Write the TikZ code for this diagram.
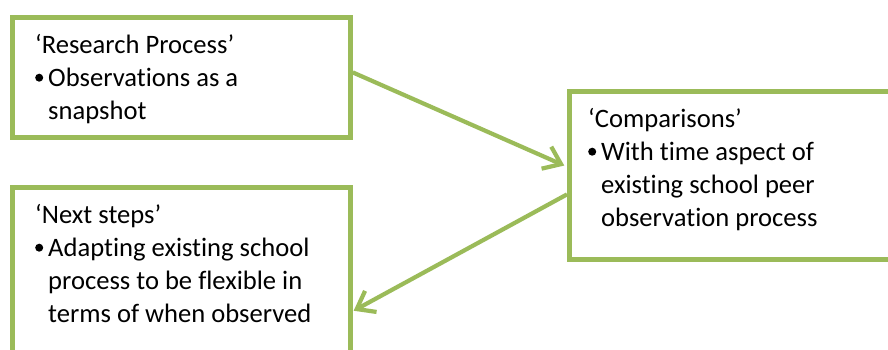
\documentclass[tikz,border=0pt]{standalone}
\usepackage{fontspec}
\setmainfont[Ligatures={NoCommon}]{Carlito}
\usetikzlibrary{arrows.meta,calc}
\definecolor{leaf}{HTML}{9BBB59}
\tikzset{
  panel/.style={draw=leaf, line width=4.8pt, fill=white, inner sep=0pt, anchor=north west},
  panetext/.style={anchor=north west, inner sep=0pt, align=left,
    font=\fontsize{26.6}{33}\selectfont},
  flow/.style={draw=leaf, line width=4.2pt,
    -{Straight Barb[length=16pt,width=24pt,line width=4.2pt]}},
}
\newcommand{\firstline}{\rule{0pt}{20pt}}
% round bullet, 8pt across, its centre 8.5pt above the baseline
\newcommand{\bulitem}{\makebox[13pt][l]{\raisebox{4.5pt}{\tikz\fill[black] (0pt,0pt) circle[radius=4pt];}}}
\newcommand{\bulcont}{\hspace*{13pt}}
\begin{document}
\begin{tikzpicture}[x=1pt,y=-1pt]
  \useasboundingbox (0,0) rectangle (888,350);
  \fill[white] (0,0) rectangle (888,350);
  \clip (0,0) rectangle (888,350);

  % three boxes
  \node[panel, minimum width=338pt, minimum height=120pt] (rp) at (10,15) {};
  \node[panel, minimum width=338pt, minimum height=185pt] (ns) at (10,185) {};
  \node[panel, minimum width=340pt, minimum height=168pt] (cmp) at (567,89) {};

  % box contents
  \node[panetext] (rptext) at (35,33)
    {\firstline‘Research Process’\\
     \bulitem Observations as a\\
     \bulcont snapshot};
  \node[panetext] (nstext) at (35,203)
    {\firstline‘Next steps’\\
     \bulitem Adapting existing school\\
     \bulcont process to be flexible in\\
     \bulcont terms of when observed};
  \node[panetext] (cmptext) at (588,107)
    {\firstline‘Comparisons’\\
     \bulitem With time aspect of\\
     \bulcont existing school peer\\
     \bulcont observation process};

  % connectors
  \draw[flow, shorten >=3pt]
    ($(rp.north east)!0.46!(rp.south east)$) -- ($(cmp.north west)!0.45!(cmp.south west)$);
  \draw[flow, shorten >=1pt]
    ($(cmp.north west)!0.61!(cmp.south west)$) -- ($(ns.north east)!0.665!(ns.south east)$);
\end{tikzpicture}
\end{document}
